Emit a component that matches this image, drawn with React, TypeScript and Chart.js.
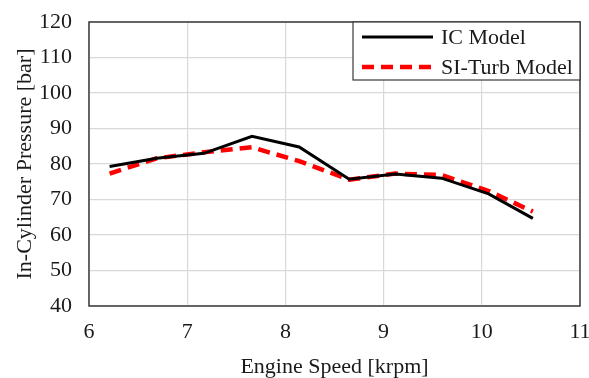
import React, { useEffect, useRef } from "react";
import { Chart, registerables } from "chart.js";

Chart.register(...registerables);

const speeds = [6.21, 6.69, 7.17, 7.66, 8.14, 8.65, 9.12, 9.59, 10.07, 10.52];
const icModel = [79.3, 81.6, 83.0, 87.8, 84.8, 75.7, 77.2, 76.0, 71.6, 64.7];
const siTurbModel = [77.3, 81.6, 83.3, 84.7, 80.8, 75.6, 77.3, 76.9, 72.4, 66.6];
const seriesLabels = ["IC Model", "SI-Turb Model"];
const xTicks = [6, 7, 8, 9, 10, 11];
const yTicks = [40, 50, 60, 70, 80, 90, 100, 110, 120];

const FONT = "'Liberation Serif', 'Times New Roman', serif";

const frameAndLegend = {
  id: "frameAndLegend",
  afterDraw(chart: any) {
    const { ctx, chartArea } = chart;
    const { left, right, top, bottom } = chartArea;
    ctx.save();
    ctx.strokeStyle = "#3a3a3a";
    ctx.lineWidth = 1.5;
    ctx.strokeRect(left, top, right - left, bottom - top);

    // legend box
    const bx = 353, by = top, bw = right - bx, bh = 58;
    ctx.fillStyle = "#ffffff";
    ctx.fillRect(bx, by, bw, bh);
    ctx.strokeStyle = "#3a3a3a";
    ctx.lineWidth = 1.2;
    ctx.strokeRect(bx, by, bw, bh);
    ctx.font = `22px ${FONT}`;
    ctx.textBaseline = "middle";
    chart.data.datasets.forEach((ds: any, i: number) => {
      const cy = by + 15 + i * 30;
      ctx.beginPath();
      ctx.strokeStyle = ds.borderColor;
      ctx.lineWidth = ds.borderWidth;
      ctx.setLineDash(ds.borderDash || []);
      ctx.moveTo(bx + 9, cy);
      ctx.lineTo(bx + 80, cy);
      ctx.stroke();
      ctx.setLineDash([]);
      ctx.fillStyle = "#1a1a1a";
      ctx.fillText(ds.label, bx + 88, cy + 1);
    });
    ctx.restore();
  },
};

export default function App() {
  const ref = useRef<HTMLCanvasElement | null>(null);
  useEffect(() => {
    if (!ref.current) return;
    const chart = new Chart(ref.current, {
      type: "line",
      data: {
        datasets: [
          {
            label: seriesLabels[0],
            data: speeds.map((x, i) => ({ x, y: icModel[i] })),
            borderColor: "#000000",
            borderWidth: 3,
            pointRadius: 0,
            tension: 0,
          },
          {
            label: seriesLabels[1],
            data: speeds.map((x, i) => ({ x, y: siTurbModel[i] })),
            borderColor: "#ff0000",
            borderWidth: 4.5,
            borderDash: [12, 7],
            pointRadius: 0,
            tension: 0,
          },
        ],
      },
      options: {
        animation: false,
        responsive: false,
        layout: { padding: { top: 22, right: 9, left: 0, bottom: 0 } },
        plugins: { legend: { display: false }, tooltip: { enabled: false } },
        scales: {
          x: {
            type: "linear",
            min: xTicks[0],
            max: xTicks[xTicks.length - 1],
            afterBuildTicks: (s: any) => {
              s.ticks = xTicks.map((v) => ({ value: v }));
            },
            afterFit: (s: any) => {
              s.height = 72;
              s.paddingLeft = 0;
              s.paddingRight = 0;
            },
            grid: { color: "#d9d9d9", lineWidth: 1.2, drawTicks: false },
            border: { display: false },
            ticks: { color: "#1a1a1a", font: { family: FONT, size: 22 }, padding: 13 },
            title: {
              display: true,
              text: "Engine Speed [krpm]",
              color: "#1a1a1a",
              font: { family: FONT, size: 22 },
              padding: { top: 0, bottom: -2 },
            },
          },
          y: {
            type: "linear",
            min: yTicks[0],
            max: yTicks[yTicks.length - 1],
            afterBuildTicks: (s: any) => {
              s.ticks = yTicks.map((v) => ({ value: v }));
            },
            afterFit: (s: any) => {
              s.width = 89;
              s.paddingTop = 0;
              s.paddingBottom = 0;
            },
            grid: { color: "#d9d9d9", lineWidth: 1.2, drawTicks: false },
            border: { display: false },
            ticks: { color: "#1a1a1a", font: { family: FONT, size: 22 }, padding: 17 },
            title: {
              display: true,
              text: "In-Cylinder Pressure [bar]",
              color: "#1a1a1a",
              font: { family: FONT, size: 22 },
              padding: { top: 12, bottom: 0 },
            },
          },
        },
      },
      plugins: [frameAndLegend],
    });
    return () => chart.destroy();
  }, []);
  return (
    <div style={{ position: "fixed", left: 0, top: 0, width: 589, height: 378, background: "#fff" }}>
      <canvas ref={ref} width={589} height={378} style={{ width: 589, height: 378 }} />
    </div>
  );
}
